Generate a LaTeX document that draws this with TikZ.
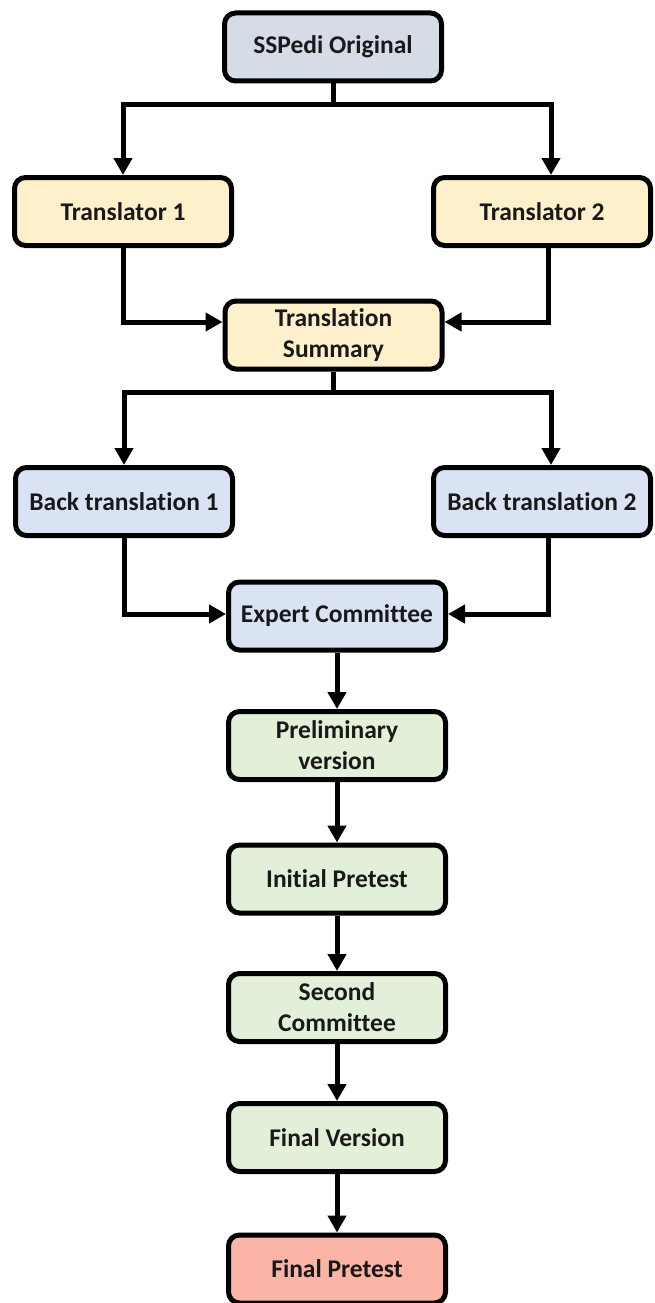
\documentclass[tikz,border=0pt]{standalone}
\usepackage{fontspec}
\setmainfont{Carlito}[Ligatures={NoCommon}]
\usetikzlibrary{arrows.meta}
\definecolor{cgray}{HTML}{D6DCE5}
\definecolor{cyell}{HTML}{FFF0CC}
\definecolor{cblue}{HTML}{DAE3F3}
\definecolor{cgreen}{HTML}{E2F0D9}
\definecolor{cred}{HTML}{FBB4A5}
\tikzset{
  box/.style={draw=black, line width=5pt, rounded corners=11pt, minimum width=217pt, minimum height=68pt,
    align=center, font=\bfseries\fontsize{25.5}{31}\selectfont, text=black!90, inner sep=2pt},
  conn/.style={line width=5pt, -{Triangle[length=17pt,width=18pt]}},
  plain/.style={line width=5pt}
}
\begin{document}
\begin{tikzpicture}[x=1pt,y=-1pt]
\useasboundingbox (0,0) rectangle (654,1303);
\node[box, fill=cgray] (orig) at (333,47) {SSPedi Original};
\node[box, fill=cyell] (t1) at (123,211.5) {Translator 1};
\node[box, fill=cyell] (t2) at (542,211.5) {Translator 2};
\node[box, fill=cyell] (summ) at (333.5,335) {Translation\\Summary};
\node[box, fill=cblue] (bt1) at (124,501.5) {Back translation 1};
\node[box, fill=cblue] (bt2) at (542,501.5) {Back translation 2};
\node[box, fill=cblue] (exp) at (337,616) {Expert Committee};
\node[box, fill=cgreen] (prel) at (337,745.5) {Preliminary\\version};
\node[box, fill=cgreen] (init) at (337,879) {Initial Pretest};
\node[box, fill=cgreen] (sec) at (337,1007.5) {Second\\Committee};
\node[box, fill=cgreen] (fin) at (337,1137.5) {Final Version};
\node[box, fill=cred] (fp) at (337,1269) {Final Pretest};
% split 1
\coordinate (s1) at (333,105);
\draw[plain] (orig.south) -- (s1);
\draw[conn] (s1) -| (t1.north);
\draw[conn] (s1) -| ([xshift=9pt]t2.north);
% merge 1
\draw[conn] (t1.south) |- ([yshift=13pt]summ.west);
\draw[conn] ([xshift=6pt]t2.south) |- ([yshift=13pt]summ.east);
% split 2
\coordinate (s2) at (333.5,392);
\draw[plain] (summ.south) -- (s2);
\draw[conn] (s2) -| (bt1.north);
\draw[conn] (s2) -| ([xshift=9pt]bt2.north);
% merge 2
\draw[conn] (bt1.south) |- ([yshift=2pt]exp.west);
\draw[conn] ([xshift=6pt]bt2.south) |- ([yshift=2pt]exp.east);
% chain
\draw[conn] (exp) -- (prel);
\draw[conn] (prel) -- (init);
\draw[conn] (init) -- (sec);
\draw[conn] (sec) -- (fin);
\draw[conn] (fin) -- (fp);
\end{tikzpicture}
\end{document}
